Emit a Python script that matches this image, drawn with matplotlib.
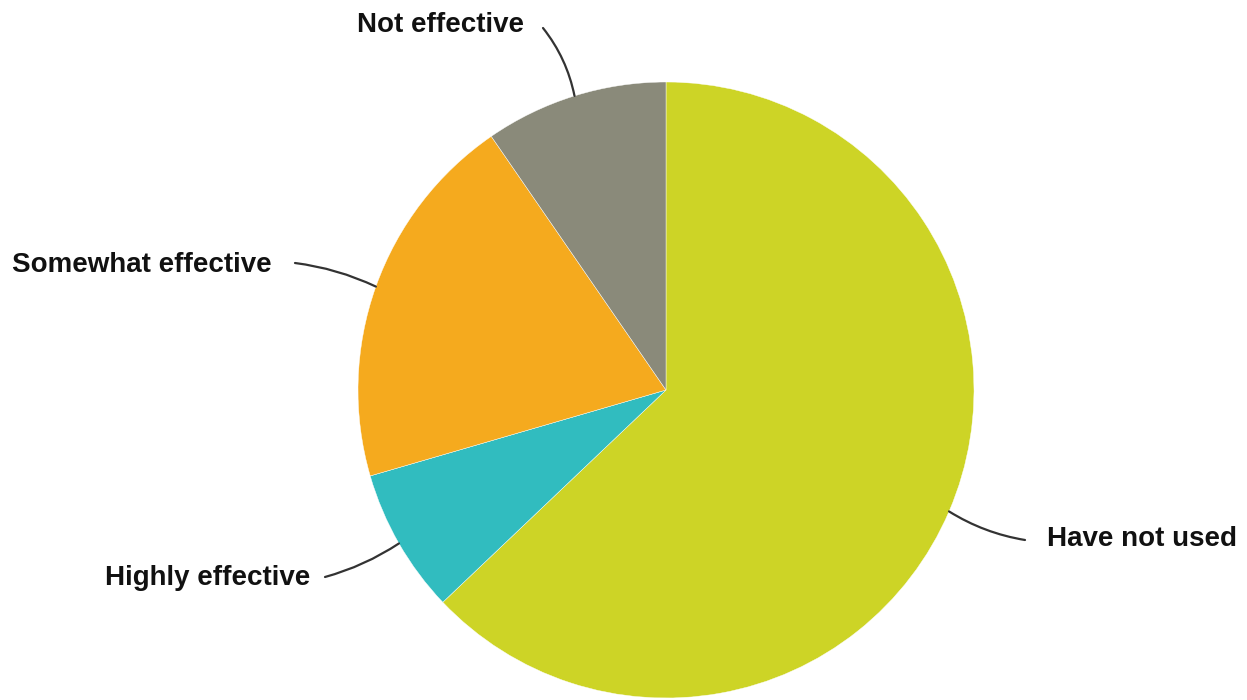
import numpy as np
import matplotlib.pyplot as plt

labels = ["Have not used", "Highly effective", "Somewhat effective", "Not effective"]
values = [62.9, 7.6, 19.9, 9.6]
colors = ["#CDD426", "#31BCBF", "#F5AA1E", "#8A8A7A"]

W, H = 1247, 700
cx, cy, R = 666, 390, 308


def px(x, y):
    # pixel (from top-left) -> data units (pie radius = 1)
    return (x - cx) / R, (cy - y) / R


fig = plt.figure(figsize=(W / 100, H / 100), dpi=100)
ax = fig.add_axes([0, 0, 1, 1])
wedges, _ = ax.pie(values, colors=colors, startangle=90, counterclock=False,
                   radius=1, center=(0, 0),
                   wedgeprops=dict(edgecolor="white", linewidth=0.3))
ax.set_xlim(-cx / R, (W - cx) / R)
ax.set_ylim(-(H - cy) / R, cy / R)
ax.set_aspect("equal")
ax.axis("off")

# label text position (pixels), leader start (pixels), curvature
label_pos = {
    "Have not used": ((1047, 539), (1025, 540), -0.1),
    "Highly effective": ((105, 578), (325, 577), 0.08),
    "Somewhat effective": ((12, 265), (295, 263), -0.08),
    "Not effective": ((357, 25), (543, 28), -0.12),
}

for w, lab in zip(wedges, labels):
    mid = np.deg2rad((w.theta1 + w.theta2) / 2)
    tip = (np.cos(mid), np.sin(mid))
    (tx, ty), (sx, sy), rad = label_pos[lab]
    ax.text(*px(tx, ty), lab, ha="left", va="center", fontsize=20,
            fontweight="bold", family="Liberation Sans", color="#111111")
    ax.annotate("", xy=tip, xytext=px(sx, sy),
                arrowprops=dict(arrowstyle="-", color="#333333", lw=1.6,
                                connectionstyle=f"arc3,rad={rad}",
                                shrinkA=0, shrinkB=0))

fig.savefig("out.png", dpi=100)
